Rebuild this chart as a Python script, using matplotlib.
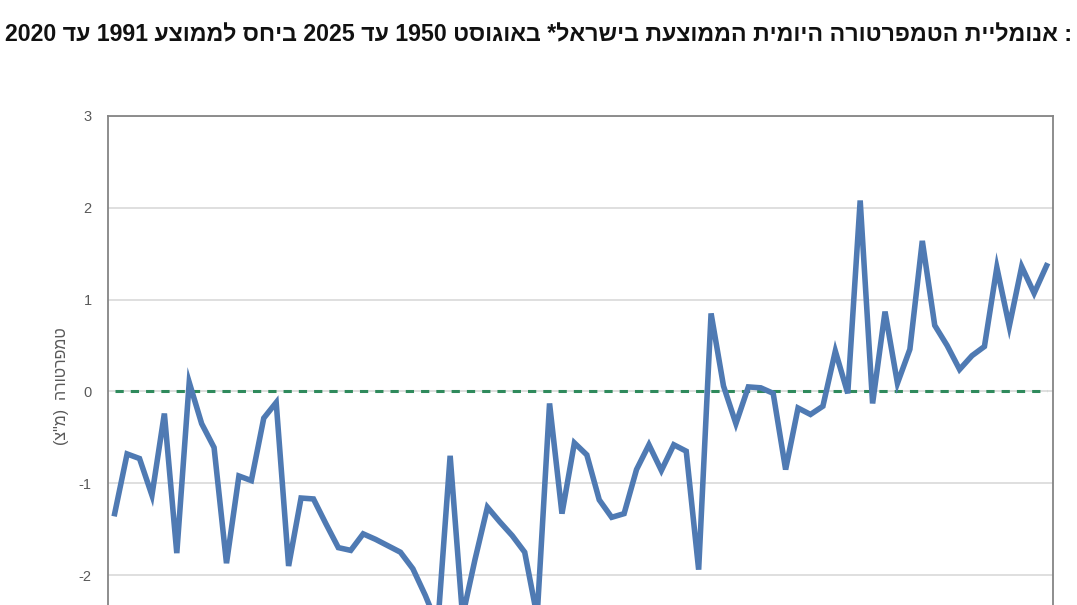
import matplotlib
matplotlib.use("Agg")
import matplotlib.pyplot as plt
import numpy as np

# August mean daily temperature anomaly in Israel, vs 1991-2020 mean
years = list(range(1950, 2026))
anomaly = [
    -1.33, -0.68, -0.73, -1.13, -0.24, -1.76, 0.10, -0.35, -0.61, -1.87,
    -0.92, -0.97, -0.29, -0.12, -1.90, -1.16, -1.17, -1.44, -1.70, -1.73,
    -1.55, -1.61, -1.68, -1.75, -1.93, -2.22, -2.55, -0.70, -2.45, -1.83,
    -1.26, -1.42, -1.57, -1.75, -2.45, -0.13, -1.33, -0.56, -0.69, -1.18,
    -1.37, -1.33, -0.85, -0.58, -0.86, -0.58, -0.65, -1.94, 0.85, 0.06,
    -0.35, 0.05, 0.04, -0.02, -0.85, -0.18, -0.25, -0.16, 0.44, -0.02,
    2.08, -0.13, 0.87, 0.09, 0.46, 1.64, 0.72, 0.50, 0.24, 0.39,
    0.49, 1.35, 0.71, 1.36, 1.07, 1.37,
]
baseline = [0.0] * len(years)
yticks = [-3, -2, -1, 0, 1, 2, 3]

title = (": אנומליית הטמפרטורה היומית הממוצעת בישראל* באוגוסט 1950 עד 2025 "
         "ביחס לממוצע 1991 עד 2020")
ylabel = 'טמפרטורה  (מ"צ)'


def visual(text):
    """Turn logical-order Hebrew into left-to-right drawing order."""
    mirror = {"(": ")", ")": "("}
    out = []
    for tok in text.split(" ")[::-1]:
        if any("\u0590" <= c <= "\u05ff" for c in tok):
            tok = "".join(mirror.get(c, c) for c in tok[::-1])
        out.append(tok)
    return " ".join(out)


plt.rcParams["font.family"] = ["Liberation Sans", "DejaVu Sans"]

fig = plt.figure(figsize=(10.77, 6.05), dpi=100)
ax = fig.add_axes([0.1007, -0.1025, 0.8768, 0.9108])

x = np.arange(len(years))
ax.plot(x, baseline, color="#2f8a5c", lw=2.2, dashes=(2.7, 2.3), zorder=2)
ax.plot(x, anomaly, color="#4f7ab3", lw=4.0, solid_joinstyle="miter",
        zorder=3)

ax.set_xlim(-0.5, len(years) - 0.5)
ax.set_ylim(-3, 3)
ax.set_yticks(yticks)
# the -3 label sits below the cropped bottom edge, as in the source image
ax.set_yticklabels(["" if t == -3 else str(t) for t in yticks])
ax.set_xticks([])
ax.grid(axis="y", color="#d9d9d9", lw=1.2, zorder=0)
ax.tick_params(axis="y", length=0, pad=12, labelsize=10.5,
               labelcolor="#595959")
for side in ax.spines.values():
    side.set_color("#858585")
    side.set_linewidth(1.3)

ax.set_ylabel(visual(ylabel), fontsize=11.5, color="#595959")
ax.yaxis.set_label_coords(-0.042, 0.51)

fig.text(0.5, 0.942, visual(title), ha="center", va="center",
         fontsize=16.7, fontweight="bold", color="#111111")

fig.savefig("out.png", dpi=100)
